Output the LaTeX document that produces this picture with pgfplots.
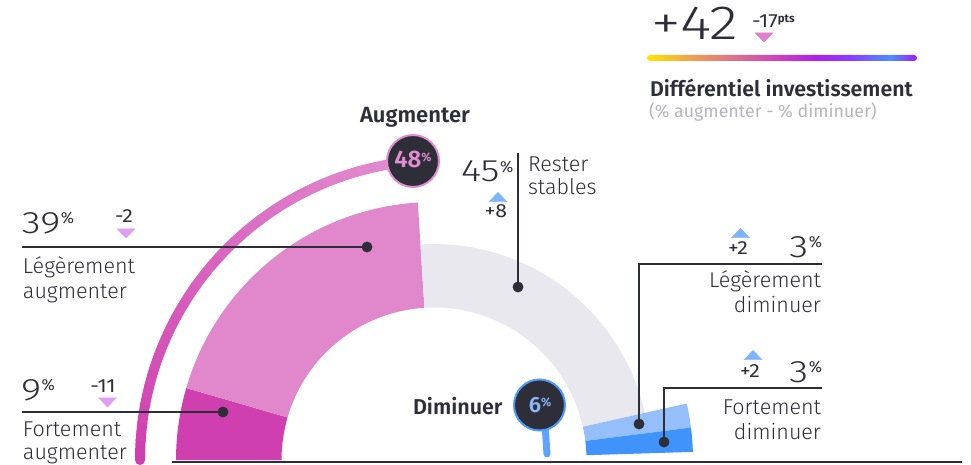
\documentclass[border=0pt]{standalone}
\usepackage{pgfplots}
\pgfplotsset{compat=1.18}
\usepackage{fontspec}
\setmainfont{Fira Sans}
\newfontfamily\lightfont{Fira Sans Light}
\newfontfamily\semifont{Fira Sans SemiBold}
\definecolor{ink}{HTML}{2E2E38}
\definecolor{dpink}{HTML}{CF3FAF}
\definecolor{lpink}{HTML}{E188CD}
\definecolor{greyseg}{HTML}{E9E8EE}
\definecolor{lblue}{HTML}{94BFFA}
\definecolor{dblue}{HTML}{3F93FB}
\definecolor{arcpink}{HTML}{E38DD0}
\definecolor{tri}{HTML}{DDA0F2}
\definecolor{trip}{HTML}{E07FCB}
\definecolor{triblue}{HTML}{7DB3FF}
\definecolor{subgrey}{HTML}{B4B4C0}
\definecolor{ring}{HTML}{4D9BFF}
\definecolor{sixtxt}{HTML}{8AB8FF}
\definecolor{stick}{HTML}{5EA4FF}
\definecolor{g0}{HTML}{FFE600}
\definecolor{g1}{HTML}{EE9A55}
\definecolor{g2}{HTML}{DA6A95}
\definecolor{g3}{HTML}{CC3CBF}
\definecolor{g4}{HTML}{B020E8}
\definecolor{g5}{HTML}{8A3CFF}
\definecolor{g6}{HTML}{4A8FFF}
\definecolor{g7}{HTML}{A01EF0}
\pgfdeclarehorizontalshading{eybar}{100bp}{color(0bp)=(g0); color(25bp)=(g0); color(34bp)=(g1); color(42.5bp)=(g2); color(50bp)=(g3); color(56bp)=(g4); color(62.5bp)=(g5); color(70bp)=(g6); color(75bp)=(g7); color(100bp)=(g7)}
\newcommand\fs[1]{\fontsize{#1}{#1}\selectfont}
\newcommand\pc[2]{\raisebox{#1}{\fs{#2}\%}}
\newcommand\pcr{\hspace{0.5pt}\raisebox{9.5pt}{\normalfont\fs{16}\%}}
\newcommand\bn[1]{\scalebox{1.25}[1]{#1}}
\newcommand\sn[1]{\scalebox{1.12}[1]{#1}}
% data: shares in %
\def\vFA{9}\def\vLA{39}\def\vRS{45}\def\vLD{3}\def\vFD{3}
\pgfmathsetmacro\aA{180-1.8*\vFA}
\pgfmathsetmacro\aB{\aA-1.8*\vLA}
\pgfmathsetmacro\aC{\aB-1.8*\vRS}
\pgfmathsetmacro\aD{\aC-1.8*\vLD}
\pgfmathsetmacro\aE{\aD-1.8*\vFD}
\newcommand\sector[5]{\fill[#1] ([shift={(#2:#5pt)}]axis cs:434,4) arc[start angle=#2,end angle=#3,radius=#5pt] -- ([shift={(#3:#4pt)}]axis cs:434,4) arc[start angle=#3,end angle=#2,radius=#4pt] -- cycle;}
\begin{document}
\begin{tikzpicture}[every node/.style={inner sep=0pt,outer sep=0pt,text=ink}]
\begin{axis}[width=971pt,height=464pt,scale only axis,xmin=0,xmax=971,ymin=0,ymax=464,hide axis,clip=false]
\sector{dpink}{180}{\aA}{152.5}{258}
\sector{lpink}{\aA}{\aB}{152.5}{258}
\sector{greyseg}{\aB}{\aC}{152.5}{216}
\sector{lblue}{\aC}{\aD}{152.5}{259}
\sector{dblue}{\aD}{\aE}{152.5}{259}
% outer gradient arc
\draw[dpink, line width=10pt, line cap=round] ([shift={(180:300pt)}]axis cs:440,4) arc[start angle=180,end angle=178,radius=300pt];
\foreach \k in {0,...,23}{
  \pgfmathsetmacro\sa{180-\k*(180-95.2)/24}
  \pgfmathsetmacro\ea{180-(\k+1)*(180-95.2)/24-0.3}
  \pgfmathtruncatemacro\m{100-\k*100/23}
  \edef\tmp{\noexpand\draw[dpink!\m!arcpink, line width=10pt] ([shift={(\sa:300pt)}]axis cs:440,4) arc[start angle=\sa,end angle=\ea,radius=300pt];}
  \tmp
}
% baseline
\draw[ink, line width=2pt] (axis cs:172,2) -- (axis cs:962,2);
% connectors
\draw[ink, line width=1.3pt] (axis cs:22,217) -- (axis cs:367,217);
\draw[ink, line width=1.3pt] (axis cs:22,52) -- (axis cs:223,52);
\draw[ink, line width=1.3pt] (axis cs:518,311) -- (axis cs:518,177);
\draw[ink, line width=1.3pt] (axis cs:822,200) -- (axis cs:639,200) -- (axis cs:639,40);
\draw[ink, line width=1.3pt] (axis cs:822,76) -- (axis cs:664,76) -- (axis cs:664,22);
\addplot[only marks, mark=*, mark size=5.2pt, color=ink] coordinates {(223,52) (367,217) (518,177) (639,40) (664,22)};
% triangles (change markers)
\addplot[only marks, mark=triangle*, mark size=10.4pt, color=trip, mark options={yscale=-0.6}] coordinates {(764,428.1)};
\addplot[only marks, mark=triangle*, mark size=10.4pt, color=tri, mark options={yscale=-0.6}] coordinates {(126,232.1) (107.5,63.1)};
\addplot[only marks, mark=triangle*, mark size=10.4pt, color=triblue, mark options={yscale=0.6}] coordinates {(498,265.4) (740.5,229.4) (753,107.4)};
% top right block
\node[anchor=base west, font=\lightfont\fs{48}] at (axis cs:651,424) {\bn{+42}};
\node[anchor=base west, font=\fs{19}] at (axis cs:752,436) {\sn{-17}\raisebox{5pt}{\fs{11.5}\bfseries pts}};
\shade[shading=eybar, rounded corners=3pt] (axis cs:647,403) rectangle (axis cs:917,409);
\node[anchor=base west, font=\semifont\fs{21.3}] at (axis cs:650,367) {Différentiel investissement};
\node[anchor=base west, font=\fs{17.8}, text=subgrey] at (axis cs:649,346) {(\% augmenter - \% diminuer)};
% Augmenter
\node[anchor=base, font=\semifont\fs{22}] at (axis cs:415,341) {Augmenter};
\draw[arcpink, line width=2pt, fill=ink] (axis cs:413,303) circle[radius=26pt];
\node[anchor=base, font=\semifont\fs{24}, text=arcpink] at (axis cs:413,296) {48\pc{6pt}{12}};
% Rester stables
\node[anchor=base west, font=\lightfont\fs{31}] at (axis cs:461,282) {\bn{45}\pcr};
\node[anchor=base west, font=\lightfont\fs{21.5}] at (axis cs:528,292) {Rester};
\node[anchor=base west, font=\lightfont\fs{21.5}] at (axis cs:528,269) {stables};
\node[anchor=base, font=\fs{19}] at (axis cs:496,246) {\sn{+8}};
% left labels
\node[anchor=base west, font=\lightfont\fs{31}] at (axis cs:22,231) {\bn{39}\pcr};
\node[anchor=base, font=\fs{19}] at (axis cs:124,241) {\sn{-2}};
\node[anchor=base west, font=\lightfont\fs{21.5}] at (axis cs:23,191) {Légèrement};
\node[anchor=base west, font=\lightfont\fs{21.5}] at (axis cs:23,166) {augmenter};
\node[anchor=base west, font=\lightfont\fs{31}] at (axis cs:21,64) {\bn{9}\pcr};
\node[anchor=base, font=\fs{19}] at (axis cs:103,72) {\sn{-11}};
\node[anchor=base west, font=\lightfont\fs{21.5}] at (axis cs:23,28) {Fortement};
\node[anchor=base west, font=\lightfont\fs{21.5}] at (axis cs:23,5) {augmenter};
% right labels
\node[anchor=base east, font=\lightfont\fs{31}] at (axis cs:822,207) {\bn{3}\pcr};
\node[anchor=base, font=\fs{19}] at (axis cs:738,210) {\sn{+2}};
\node[anchor=base east, font=\lightfont\fs{21.5}] at (axis cs:821,177) {Légèrement};
\node[anchor=base east, font=\lightfont\fs{21.5}] at (axis cs:821,152) {diminuer};
\node[anchor=base east, font=\lightfont\fs{31}] at (axis cs:822,82) {\bn{3}\pcr};
\node[anchor=base, font=\fs{19}] at (axis cs:750,87) {\sn{+2}};
\node[anchor=base east, font=\lightfont\fs{21.5}] at (axis cs:821,50) {Fortement};
\node[anchor=base east, font=\lightfont\fs{21.5}] at (axis cs:821,25) {diminuer};
% Diminuer
\node[anchor=base west, font=\semifont\fs{21.5}] at (axis cs:413,50) {Diminuer};
\draw[stick, line width=7pt, line cap=round] (axis cs:545,40) -- (axis cs:547,10);
\draw[ring, line width=2pt, fill=ink] (axis cs:539.5,59) circle[radius=25.5pt];
\node[anchor=base, font=\semifont\fs{22}, text=sixtxt] at (axis cs:540,52) {6\pc{6pt}{12}};
\end{axis}
\pgfresetboundingbox
\useasboundingbox (current axis.south west) rectangle (current axis.north east);
\end{tikzpicture}
\end{document}
